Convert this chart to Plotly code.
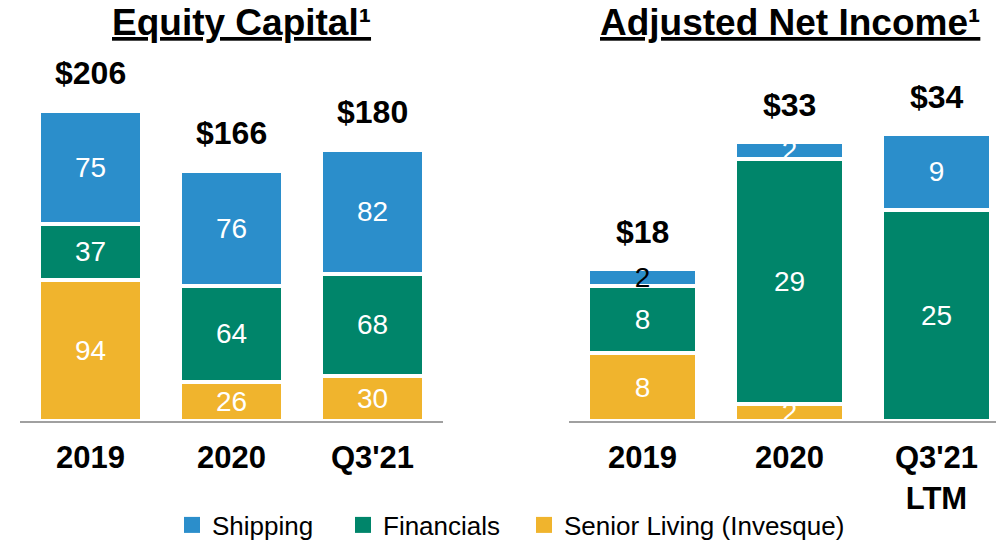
import plotly.graph_objects as go

categories_eq = ["2019", "2020", "Q3'21"]
categories_ni = ["2019", "2020", "Q3'21<br>LTM"]

eq_senior = [94, 26, 30]
eq_fin = [37, 64, 68]
eq_ship = [75, 76, 82]
eq_total = [206, 166, 180]

ni_senior = [8, 2, None]
ni_fin = [8, 29, 25]
ni_ship = [2, 2, 9]
ni_total = [18, 33, 34]

series_names = ["Senior Living (Invesque)", "Financials", "Shipping"]
colors = ["#F0B42D", "#00856A", "#2B8ECB"]

FONT = "Liberation Sans, Arial, sans-serif"

# page body offsets the figure by 8px; work in screen pixels and convert
W, H, OFF = 996, 534, 8
def fx(sx):
    return (sx - OFF) / W
def fy(sy):
    return 1 - (sy - OFF) / H

fig = go.Figure()

def add_stack(xcats, data, xa, ya, width, ship_text_colors):
    for name, vals, col in zip(series_names, data, colors):
        tcol = ship_text_colors if name == "Shipping" else "white"
        fig.add_trace(go.Bar(
            x=xcats, y=vals, name=name, marker=dict(color=col, line=dict(color="white", width=4)),
            width=width, xaxis=xa, yaxis=ya, showlegend=False,
            text=[("" if v is None else str(v)) for v in vals], textposition="inside",
            insidetextanchor="middle", constraintext="none", textangle=0, cliponaxis=False,
            insidetextfont=dict(family=FONT, size=28, color=tcol),
            hoverinfo="skip",
        ))

add_stack(categories_eq, [eq_senior, eq_fin, eq_ship], "x", "y", 0.73, "white")
add_stack(categories_ni, [ni_senior, ni_fin, ni_ship], "x2", "y2", 0.74, ["black", "white", "white"])

# legend entries (one legend per item for exact placement)
legend_order = ["Shipping", "Financials", "Senior Living (Invesque)"]
legend_colors = {n: c for n, c in zip(series_names, colors)}
legend_ids = ["legend", "legend2", "legend3"]
for name, lid in zip(legend_order, legend_ids):
    fig.add_trace(go.Scatter(x=[None], y=[None], mode="markers", name=name, legend=lid,
                             marker=dict(symbol="square", size=17, color=legend_colors[name]),
                             showlegend=True, hoverinfo="skip"))

annotations = []
for i, t in enumerate(eq_total):
    annotations.append(dict(x=i, y=t, xref="x", yref="y", text=f"<b>${t}</b>", showarrow=False,
                            yanchor="middle", yshift=38, font=dict(family=FONT, size=32, color="black")))
for i, t in enumerate(ni_total):
    annotations.append(dict(x=i, y=t, xref="x2", yref="y2", text=f"<b>${t}</b>", showarrow=False,
                            yanchor="middle", yshift=37, font=dict(family=FONT, size=32, color="black")))
annotations.append(dict(x=fx(241), y=fy(23), xref="paper", yref="paper", showarrow=False,
                        text="<b><u>Equity Capital¹</u></b>", yanchor="middle", xanchor="center",
                        font=dict(family=FONT, size=37, color="black")))
annotations.append(dict(x=fx(790), y=fy(23), xref="paper", yref="paper", showarrow=False,
                        text="<b><u>Adjusted Net Income¹</u></b>", yanchor="middle", xanchor="center",
                        font=dict(family=FONT, size=37, color="black")))

plot_top, plot_bot = 60, 421
plot_h = plot_bot - plot_top

axis_common = dict(type="category", showgrid=False, zeroline=False, showline=True, linecolor="#A0A0A0",
                   linewidth=2, ticks="outside", ticklen=8, tickcolor="rgba(0,0,0,0)",
                   tickfont=dict(family=FONT, size=31, color="black"), fixedrange=True)

legend_common = dict(orientation="h", yanchor="middle", xanchor="left", y=fy(525),
                     font=dict(family=FONT, size=26, color="black"), bgcolor="rgba(0,0,0,0)")

fig.update_layout(
    width=W, height=H, margin=dict(l=0, r=0, t=0, b=0, autoexpand=False),
    paper_bgcolor="white", plot_bgcolor="white", barmode="stack",
    showlegend=True,
    font=dict(family=FONT),
    xaxis=dict(domain=[fx(20), fx(443)], range=[-0.5, 2.5], anchor="y",
               tickvals=categories_eq, ticktext=[f"<b>{c}</b>" for c in categories_eq], **axis_common),
    xaxis2=dict(domain=[fx(569), 1.0], range=[-0.5, (OFF + W - 642.5) / 147], anchor="y2",
                tickvals=categories_ni, ticktext=[f"<b>{c}</b>" for c in categories_ni], **axis_common),
    yaxis=dict(domain=[fy(plot_bot), fy(plot_top)], range=[0, plot_h / 1.505], visible=False, fixedrange=True),
    yaxis2=dict(domain=[fy(plot_bot), fy(plot_top)], range=[0, plot_h / 8.45], visible=False,
                fixedrange=True, anchor="x2"),
    legend=dict(x=fx(192 - 20), **legend_common),
    legend2=dict(x=fx(363 - 20), **legend_common),
    legend3=dict(x=fx(544 - 20), **legend_common),
    annotations=annotations,
)

fig.write_html("out.html")
